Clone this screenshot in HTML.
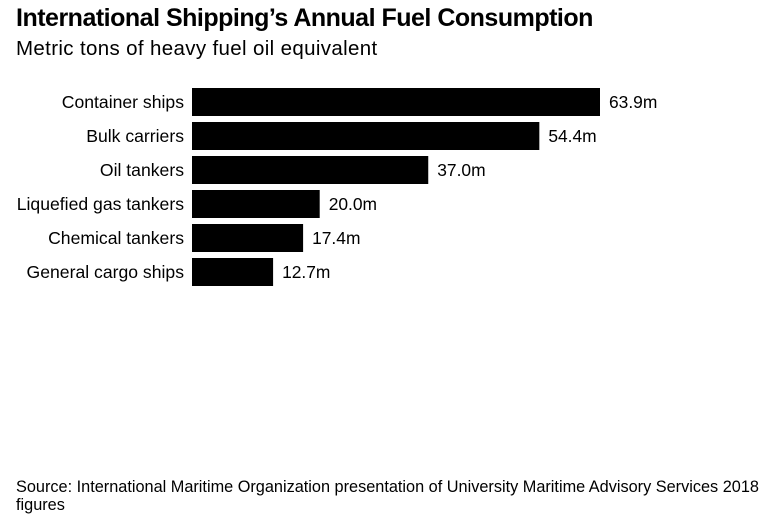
<!DOCTYPE html>
<html><head><meta charset="utf-8"><style>
body{margin:0;background:#fff;font-family:"Liberation Sans",Arial,sans-serif;}
#wrap{position:relative;width:770px;height:522px;overflow:hidden;}
.t{position:absolute;left:16px;white-space:nowrap;color:#000}
</style></head><body>
<div id="wrap">
<div class="t" style="top:4px;font-size:25px;font-weight:bold;letter-spacing:-0.5px">International Shipping’s Annual Fuel Consumption</div>
<div class="t" style="top:37px;font-size:20.5px;letter-spacing:0.35px">Metric tons of heavy fuel oil equivalent</div>
<svg id="svg" width="770" height="522" style="position:absolute;left:0;top:0"></svg>
<div class="t" style="top:478px;font-size:16.3px;line-height:18px;width:750px;white-space:normal">Source: International Maritime Organization presentation of University Maritime Advisory Services 2018 figures</div>
</div>
<script>
const categories=["Container ships","Bulk carriers","Oil tankers","Liquefied gas tankers","Chemical tankers","General cargo ships"];
const values=[63.9,54.4,37.0,20.0,17.4,12.7];
const labels=["63.9m","54.4m","37.0m","20.0m","17.4m","12.7m"];
const NS="http://www.w3.org/2000/svg";
const svg=document.getElementById("svg");
const x0=192, xScale=v=>v*408/63.9;
const yPos=i=>88+i*34, bh=28;
categories.forEach((c,i)=>{
  const y=yPos(i);
  const r=document.createElementNS(NS,"rect");
  r.setAttribute("x",x0);r.setAttribute("y",y);r.setAttribute("width",xScale(values[i]));r.setAttribute("height",bh);r.setAttribute("fill","#000");
  
  
  svg.appendChild(r);
  const t=document.createElementNS(NS,"text");
  t.setAttribute("x",184);t.setAttribute("y",y+bh/2+6);t.setAttribute("text-anchor","end");t.setAttribute("font-size","17.6");t.setAttribute("font-family","Liberation Sans, Arial, sans-serif");
  t.textContent=c;
  
  
  svg.appendChild(t);
  const v=document.createElementNS(NS,"text");
  v.setAttribute("x",x0+xScale(values[i])+9);v.setAttribute("y",y+bh/2+6);v.setAttribute("font-size","17.4");v.setAttribute("font-family","Liberation Sans, Arial, sans-serif");
  v.textContent=labels[i];
  
  
  svg.appendChild(v);
});
</script>
</body></html>
